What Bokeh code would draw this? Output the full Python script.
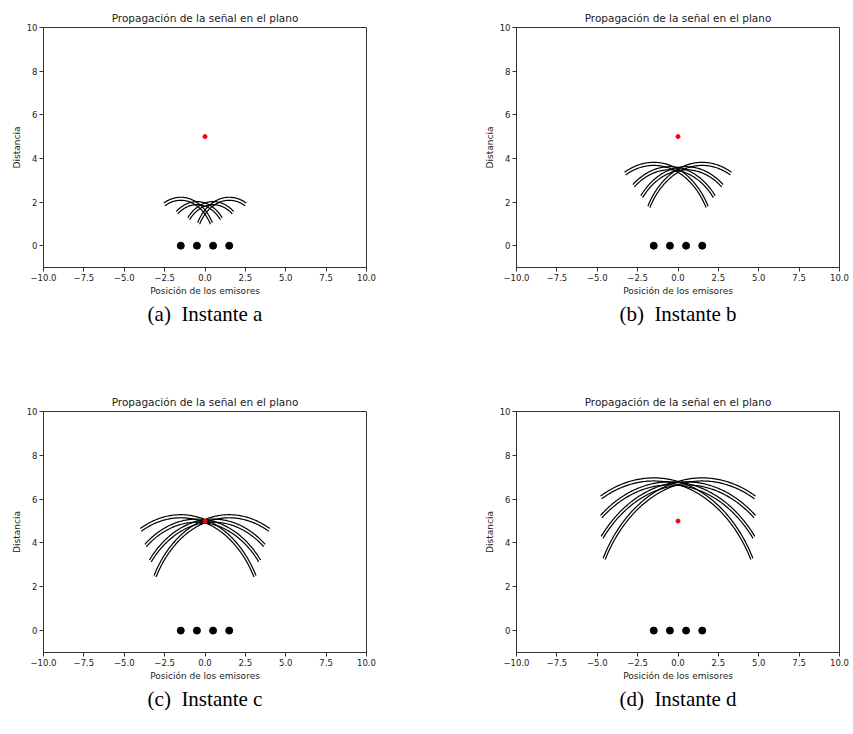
import numpy as np
from bokeh.plotting import figure
from bokeh.models import Range1d, FixedTicker, Title
from bokeh.layouts import column, row
from bokeh.embed import file_html
from bokeh.resources import INLINE

# ---- data ----
emitter_x = [-1.5, -0.5, 0.5, 1.5]
emitter_y = [0.0, 0.0, 0.0, 0.0]
target_x = [0.0]
target_y = [5.0]
# wavefront radius of each emitter, per instant
radii_a = [2.15, 1.95, 1.95, 2.15]
radii_b = [3.75, 3.55, 3.55, 3.75]
radii_c = [5.22, 5.02, 5.02, 5.22]
radii_d = [6.90, 6.72, 6.72, 6.90]
captions = ["(a)\u00a0\u00a0Instante a", "(b)\u00a0\u00a0Instante b",
            "(c)\u00a0\u00a0Instante c", "(d)\u00a0\u00a0Instante d"]
x_ticks = [-10, -7.5, -5, -2.5, 0, 2.5, 5, 7.5, 10]
x_tick_labels = ["\u221210.0", "\u22127.5", "\u22125.0", "\u22122.5", "0.0", "2.5", "5.0", "7.5", "10.0"]
y_ticks = [0, 2, 4, 6, 8, 10]
title_text = "Propagación de la señal en el plano"
xlabel = "Posición de los emisores"
ylabel = "Distancia"

HALF_SPAN = np.pi / 4   # arc spans +-45 deg around the direction to the target
PAIR = 0.07             # each wavefront drawn as a thin double line
FONT = "DejaVu Sans"
AX = "#333333"


def arcs(radii):
    xs, ys = [], []
    for ex, ey, r in zip(emitter_x, emitter_y, radii):
        phi = np.arctan2(target_y[0] - ey, target_x[0] - ex)
        th = np.linspace(phi - HALF_SPAN, phi + HALF_SPAN, 120)
        for rr in (r - PAIR, r + PAIR):
            xs.append(list(ex + rr * np.cos(th)))
            ys.append(list(ey + rr * np.sin(th)))
    return xs, ys


def panel(radii, caption, width, height, ml, mr, mb):
    p = figure(width=width, height=height, x_range=Range1d(-10, 10), y_range=Range1d(-1, 10),
               output_backend="svg", toolbar_location=None,
               min_border_left=ml, min_border_right=mr, min_border_top=27, min_border_bottom=mb)
    p.title.text = title_text
    p.title.align = "center"
    p.title.text_font = FONT
    p.title.text_font_size = "10.5px"
    p.title.text_font_style = "normal"
    p.title.text_color = "#222222"
    p.title.standoff = 7
    p.grid.visible = False
    p.outline_line_color = AX
    p.outline_line_width = 1
    p.background_fill_color = "white"
    p.border_fill_color = "white"

    for ax in (p.xaxis[0], p.yaxis[0]):
        ax.axis_line_color = AX
        ax.major_tick_line_color = AX
        ax.major_tick_out = 4
        ax.major_tick_in = 0
        ax.minor_tick_line_color = None
        ax.major_label_text_font = FONT
        ax.major_label_text_font_size = "8.5px"
        ax.major_label_text_color = "#222222"
        ax.major_label_standoff = 2
        ax.axis_label_text_font = FONT
        ax.axis_label_text_font_size = "9px"
        ax.axis_label_text_font_style = "normal"
        ax.axis_label_text_color = "#222222"
        ax.axis_label_standoff = 2
    p.xaxis[0].ticker = FixedTicker(ticks=x_ticks)
    p.xaxis[0].major_label_overrides = {t: l for t, l in zip(x_ticks, x_tick_labels)}
    p.xaxis[0].axis_label = xlabel
    p.yaxis[0].ticker = FixedTicker(ticks=y_ticks)
    p.yaxis[0].axis_label = ylabel

    xs, ys = arcs(radii)
    p.multi_line(xs, ys, line_color="black", line_width=1.2)
    p.scatter(emitter_x, emitter_y, size=7, color="black")
    p.scatter(target_x, target_y, size=4, color="red")

    cap = Title(text=caption, align="center", text_font="Liberation Serif",
                text_font_size="21px", text_font_style="normal", text_color="black",
                standoff=2)
    p.add_layout(cap, "below")
    return p


p1 = panel(radii_a, captions[0], 426, 384, 43, 60, 117)
p2 = panel(radii_b, captions[1], 427, 384, 90, 14, 117)
p3 = panel(radii_c, captions[2], 426, 350, 43, 60, 82)
p4 = panel(radii_d, captions[3], 427, 350, 90, 14, 82)

layout = column(row(p1, p2, spacing=0), row(p3, p4, spacing=0), spacing=0)
open("out.html", "w").write(file_html(layout, INLINE))
